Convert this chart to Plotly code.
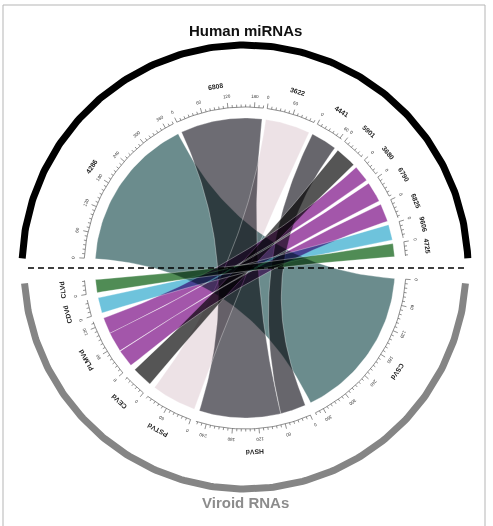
import numpy as np
import plotly.graph_objects as go

# miRNA sectors on the upper half, clockwise order
mirna_ids = ["4286", "6808", "3622", "4441", "5901", "3680", "6790", "6825", "9606", "4725"]
mirna_colors = ["#6b8c8d", "#6d6c73", "#ede2e6", "#67666c", "#555555",
                "#a356aa", "#a356aa", "#a356aa", "#6ec3dc", "#508c55"]

# viroid sectors on the lower half, clockwise order
viroid_ids = ["CSVd", "HSVd", "PSTVd", "CEVd", "PLMVd", "CDVd", "CLVd"]

# predicted interactions: miRNA -> viroid with weight
link_mirna = ["4286", "6808", "3622", "4441", "5901", "3680", "6790", "6825", "9606", "4725"]
link_viroid = ["CSVd", "HSVd", "PSTVd", "HSVd", "CEVd", "PLMVd", "PLMVd", "PLMVd", "CDVd", "CLVd"]
link_value = [380, 200, 110, 64, 52, 40, 50, 44, 38, 32]

# geometry (degrees, radii in px)
DEG_PER_UNIT = 0.158
TOP_START, TOP_GAP = 176.5, 1.4
BOT_START, BOT_GAP = 356.0, 2.0
R_LINK = 150
R_AXIS = 161
R_TLAB = 172
R_NAME = 184
MINOR, MAJOR = 10, 60


def sector_sizes(ids, key_list):
    return [sum(v for k, v in zip(key_list, link_value) if k == s) for s in ids]


def layout_sectors(ids, sizes, start, gap):
    spans = {}
    a = start
    for s, v in zip(ids, sizes):
        span = v * DEG_PER_UNIT
        spans[s] = (a, a - span, v)
        a = a - span - gap
    return spans


top_sizes = sector_sizes(mirna_ids, link_mirna)
bot_sizes = sector_sizes(viroid_ids, link_viroid)
top_span = layout_sectors(mirna_ids, top_sizes, TOP_START, TOP_GAP)
bot_span = layout_sectors(viroid_ids, bot_sizes, BOT_START, BOT_GAP)


def pol(r, deg):
    t = np.radians(deg)
    return r * np.cos(t), r * np.sin(t)


def arc(r, a0, a1, n=40):
    t = np.radians(np.linspace(a0, a1, n))
    return list(r * np.cos(t)), list(r * np.sin(t))


def bez(p0, p2, n=60):
    t = np.linspace(0, 1, n)
    x = (1 - t) ** 2 * p0[0] + t ** 2 * p2[0]
    y = (1 - t) ** 2 * p0[1] + t ** 2 * p2[1]
    return list(x), list(y)


# position of each link end inside its viroid sector (nested, non-crossing)
cursor = {s: bot_span[s][0] for s in viroid_ids}
order = sorted(range(len(link_value)), key=lambda i: -mirna_ids.index(link_mirna[i]))
bot_pos = {}
for i in order:
    v = link_viroid[i]
    b0 = cursor[v]
    b1 = b0 - link_value[i] * DEG_PER_UNIT
    cursor[v] = b1
    bot_pos[i] = (b0, b1)

fig = go.Figure()

for i in range(len(link_value)):
    a0, a1, _ = top_span[link_mirna[i]]
    b0, b1 = bot_pos[i]
    xs, ys = [], []
    for seg in (arc(R_LINK, a0, a1),
                bez(pol(R_LINK, a1), pol(R_LINK, b0)),
                arc(R_LINK, b0, b1),
                bez(pol(R_LINK, b1), pol(R_LINK, a0))):
        xs += seg[0]
        ys += seg[1]
    col = mirna_colors[mirna_ids.index(link_mirna[i])]
    fig.add_trace(go.Scatter(x=xs, y=ys, mode="lines", fill="toself",
                             fillcolor=col, line=dict(color="rgba(255,255,255,0.55)", width=0.6),
                             hoverinfo="skip", showlegend=False))

# axis rings, ticks and labels
base_x, base_y, tick_x, tick_y = [], [], [], []
annotations = []


def textangle(theta):
    a = 90 - theta
    while a <= -180:
        a += 360
    while a > 180:
        a -= 360
    return a


for spans in (top_span, bot_span):
    for name, (s0, s1, size) in spans.items():
        x, y = arc(R_AXIS, s0, s1, 30)
        base_x += x + [None]
        base_y += y + [None]
        for u in range(0, int(size) + 1, MINOR):
            th = s0 - u * DEG_PER_UNIT
            rr = R_AXIS + (5 if u % MAJOR == 0 else 2.5)
            p, q = pol(R_AXIS, th), pol(rr, th)
            tick_x += [p[0], q[0], None]
            tick_y += [p[1], q[1], None]
            if u % MAJOR == 0:
                lx, ly = pol(R_TLAB, th)
                annotations.append(dict(x=lx, y=ly, text=str(u), showarrow=False,
                                        textangle=textangle(th),
                                        font=dict(size=4.5, color="#333", family="Liberation Sans")))
        mid = (s0 + s1) / 2
        nx, ny = pol(R_NAME, mid)
        annotations.append(dict(x=nx, y=ny, text=name, showarrow=False,
                                textangle=textangle(mid),
                                font=dict(size=6.8, color="#222", family="Liberation Sans", weight="bold")))

fig.add_trace(go.Scatter(x=base_x, y=base_y, mode="lines",
                         line=dict(color="#444", width=0.6), hoverinfo="skip", showlegend=False))
fig.add_trace(go.Scatter(x=tick_x, y=tick_y, mode="lines",
                         line=dict(color="#444", width=0.6), hoverinfo="skip", showlegend=False))

# group brackets
bx, by = arc(223, 177.5, 2.5, 200)
fig.add_trace(go.Scatter(x=bx, y=by, mode="lines", line=dict(color="black", width=7),
                         hoverinfo="skip", showlegend=False))
gx, gy = arc(221, 184, 356, 200)
fig.add_trace(go.Scatter(x=gx, y=gy, mode="lines", line=dict(color="#858585", width=7),
                         hoverinfo="skip", showlegend=False))

annotations.append(dict(x=0, y=238, text="<b>Human miRNAs</b>", showarrow=False,
                        font=dict(size=15, color="#111", family="Liberation Sans")))
annotations.append(dict(x=0, y=-234, text="<b>Viroid RNAs</b>", showarrow=False,
                        font=dict(size=15, color="#8c8c8c", family="Liberation Sans")))

shapes = [
    dict(type="line", xref="x", yref="y", x0=-217, x1=220, y0=0, y1=0,
         line=dict(color="black", width=1.3, dash="6px,4px")),
    dict(type="rect", xref="paper", yref="paper", x0=3 / 493, x1=485 / 493,
         y0=-0.02, y1=1 - 5 / 526, line=dict(color="#b5b5b5", width=1)),
]

fig.update_layout(
    width=493, height=526, autosize=False,
    margin=dict(l=0, r=0, t=0, b=0),
    paper_bgcolor="white", plot_bgcolor="white",
    xaxis=dict(range=[-245, 248], visible=False, fixedrange=True),
    yaxis=dict(range=[-258, 268], visible=False, fixedrange=True),
    annotations=annotations, shapes=shapes,
)

# overlapping ribbons darken each other (multiply blending)
blend_js = """
var gd = document.getElementById('{plot_id}');
function mb() {
  gd.querySelectorAll('path.js-fill').forEach(function (p) { p.style.mixBlendMode = 'multiply'; });
}
mb();
if (gd.on) { gd.on('plotly_afterplot', mb); }
"""

fig.write_html("out.html", post_script=blend_js, config={"displayModeBar": False})
